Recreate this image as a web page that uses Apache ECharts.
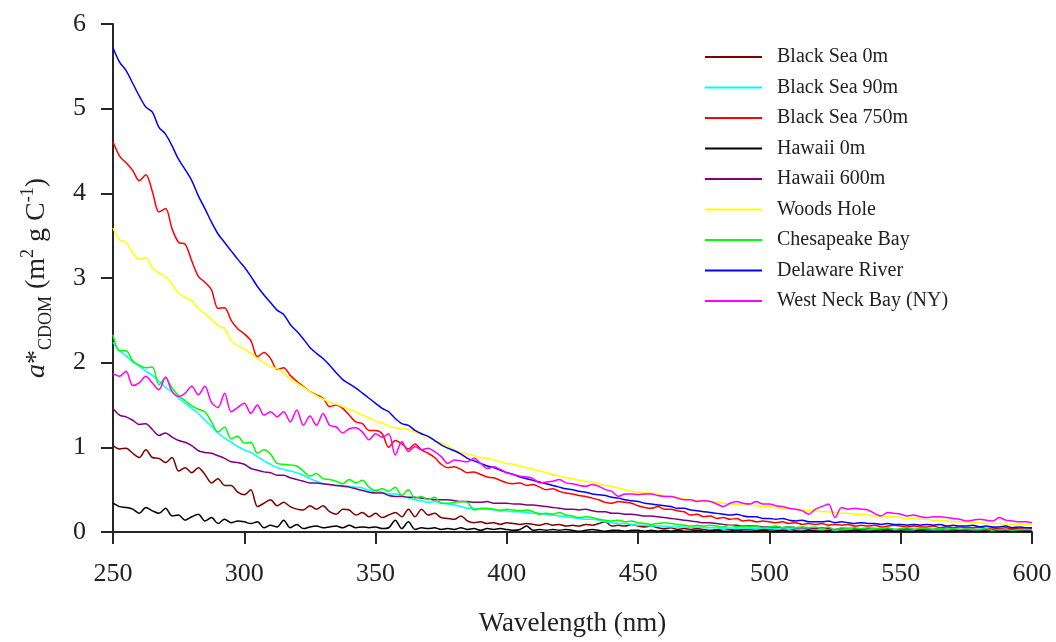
<!DOCTYPE html>
<html>
<head>
<meta charset="utf-8">
<title>CDOM specific absorption spectra</title>
<script src="https://cdn.jsdelivr.net/npm/echarts@6/dist/echarts.min.js"></script>
<style>
  html, body { margin: 0; padding: 0; background: #ffffff; }
  #chart { width: 1056px; height: 642px; }
</style>
</head>
<body>
<div id="chart"></div>
<script>
// Wavelength grid (nm): 250 to 600 in 2.5 nm steps
const wavelengths = [];
for (let w = 250; w <= 600; w += 2.5) wavelengths.push(w);

const xTicks = [250, 300, 350, 400, 450, 500, 550, 600];
const yTicks = [0, 1, 2, 3, 4, 5, 6];

const seriesNames = [
  'Black Sea 0m', 'Black Sea 90m', 'Black Sea 750m', 'Hawaii 0m', 'Hawaii 600m',
  'Woods Hole', 'Chesapeake Bay', 'Delaware River', 'West Neck Bay (NY)'
];

// a*CDOM (m2 g C-1), one value per wavelength step
const blackSea0m = [
  1.02, 0.98, 0.99, 0.93, 0.88, 0.97, 0.88, 0.87, 0.82, 0.88,
  0.72, 0.76, 0.70, 0.76, 0.68, 0.58, 0.63, 0.55, 0.55, 0.47,
  0.44, 0.50, 0.30, 0.34, 0.38, 0.31, 0.35, 0.30, 0.27, 0.26,
  0.31, 0.27, 0.31, 0.24, 0.21, 0.27, 0.26, 0.20, 0.23, 0.18,
  0.22, 0.17, 0.20, 0.23, 0.18, 0.27, 0.18, 0.27, 0.20, 0.22,
  0.17, 0.16, 0.15, 0.19, 0.13, 0.11, 0.12, 0.10, 0.11, 0.09,
  0.11, 0.10, 0.09, 0.10, 0.09, 0.08, 0.10, 0.08, 0.09, 0.07,
  0.08, 0.07, 0.09, 0.08, 0.10, 0.12, 0.07, 0.08, 0.07, 0.09,
  0.07, 0.06, 0.07, 0.05, 0.04, 0.05, 0.03, 0.04, 0.03, 0.04,
  0.03, 0.02, 0.03, 0.04, 0.03, 0.02, 0.03, 0.03, 0.02, 0.03,
  0.03, 0.02, 0.03, 0.04, 0.02, 0.03, 0.03, 0.02, 0.03, 0.02,
  0.01, 0.03, 0.02, 0.03, 0.02, 0.03, 0.02, 0.02, 0.03, 0.02,
  0.02, 0.03, 0.02, 0.02, 0.03, 0.02, 0.02, 0.03, 0.02, 0.02,
  0.02, 0.03, 0.02, 0.02, 0.03, 0.02, 0.02, 0.03, 0.02, 0.02,
  0.03
];
const blackSea90m = [
  2.24, 2.14, 2.08, 2.01, 1.96, 1.90, 1.85, 1.78, 1.71, 1.65,
  1.58, 1.52, 1.46, 1.40, 1.32, 1.25, 1.17, 1.11, 1.06, 1.01,
  0.97, 0.94, 0.89, 0.84, 0.80, 0.76, 0.74, 0.72, 0.70, 0.67,
  0.63, 0.60, 0.57, 0.56, 0.55, 0.55, 0.54, 0.53, 0.52, 0.49,
  0.48, 0.47, 0.45, 0.45, 0.43, 0.40, 0.38, 0.37, 0.35, 0.36,
  0.34, 0.33, 0.32, 0.30, 0.28, 0.28, 0.27, 0.27, 0.26, 0.26,
  0.25, 0.24, 0.24, 0.23, 0.22, 0.22, 0.21, 0.20, 0.19, 0.18,
  0.17, 0.16, 0.15, 0.15, 0.14, 0.12, 0.11, 0.10, 0.10, 0.09,
  0.08, 0.08, 0.07, 0.07, 0.07, 0.06, 0.06, 0.06, 0.05, 0.06,
  0.05, 0.05, 0.05, 0.04, 0.05, 0.04, 0.05, 0.04, 0.04, 0.05,
  0.04, 0.04, 0.03, 0.04, 0.04, 0.03, 0.04, 0.03, 0.03, 0.04,
  0.01, 0.03, 0.03, 0.03, 0.02, 0.03, 0.03, 0.02, 0.03, 0.02,
  0.03, 0.02, 0.02, 0.03, 0.02, 0.02, 0.02, 0.03, 0.02, 0.02,
  0.01, 0.02, 0.02, 0.01, 0.02, 0.02, 0.01, 0.02, 0.02, 0.01,
  0.02
];
const blackSea750m = [
  4.61, 4.44, 4.36, 4.27, 4.15, 4.22, 4.02, 3.78, 3.82, 3.58,
  3.42, 3.40, 3.20, 3.02, 2.95, 2.86, 2.64, 2.65, 2.50, 2.40,
  2.34, 2.26, 2.07, 2.12, 2.05, 1.92, 1.94, 1.85, 1.78, 1.72,
  1.66, 1.62, 1.58, 1.48, 1.50, 1.46, 1.38, 1.30, 1.28, 1.20,
  1.20, 1.16, 1.00, 1.08, 1.04, 0.98, 1.04, 0.97, 0.93, 0.88,
  0.80, 0.76, 0.77, 0.74, 0.70, 0.71, 0.68, 0.65, 0.64, 0.61,
  0.58, 0.57, 0.58, 0.55, 0.56, 0.53, 0.50, 0.51, 0.48, 0.46,
  0.45, 0.43, 0.42, 0.40, 0.38, 0.35, 0.34, 0.36, 0.35, 0.34,
  0.31, 0.29, 0.28, 0.30, 0.27, 0.27, 0.25, 0.24, 0.20, 0.21,
  0.18, 0.19, 0.16, 0.17, 0.15, 0.16, 0.13, 0.14, 0.12, 0.13,
  0.12, 0.11, 0.12, 0.10, 0.11, 0.09, 0.10, 0.09, 0.10, 0.08,
  0.09, 0.08, 0.09, 0.07, 0.08, 0.07, 0.08, 0.06, 0.07, 0.08,
  0.07, 0.06, 0.07, 0.06, 0.06, 0.07, 0.05, 0.06, 0.05, 0.06,
  0.05, 0.05, 0.06, 0.04, 0.05, 0.04, 0.05, 0.04, 0.04, 0.05,
  0.04
];
const hawaii0m = [
  0.34, 0.30, 0.29, 0.27, 0.22, 0.29, 0.25, 0.22, 0.28, 0.19,
  0.20, 0.14, 0.18, 0.21, 0.13, 0.17, 0.10, 0.15, 0.11, 0.13,
  0.12, 0.10, 0.12, 0.05, 0.08, 0.06, 0.14, 0.05, 0.09, 0.04,
  0.06, 0.07, 0.05, 0.06, 0.07, 0.05, 0.08, 0.05, 0.06, 0.05,
  0.06, 0.04, 0.05, 0.14, 0.04, 0.12, 0.03, 0.05, 0.04, 0.05,
  0.03, 0.04, 0.03, 0.05, 0.03, 0.04, 0.02, 0.04, 0.03, 0.04,
  0.03, 0.02, 0.03, 0.07, 0.02, 0.03, 0.02, 0.03, 0.02, 0.03,
  0.02, 0.01, 0.02, 0.03, 0.02, 0.01, 0.02, 0.02, 0.01, 0.02,
  0.02, 0.01, 0.02, 0.01, 0.02, 0.01, 0.02, 0.01, 0.01, 0.02,
  0.01, 0.01, 0.02, 0.01, 0.01, 0.02, 0.01, 0.01, 0.01, 0.02,
  0.01, 0.01, 0.02, 0.01, 0.01, 0.01, 0.02, 0.01, 0.01, 0.01,
  0.00, 0.01, 0.01, 0.02, 0.01, 0.01, 0.01, 0.01, 0.02, 0.01,
  0.01, 0.01, 0.01, 0.02, 0.01, 0.01, 0.01, 0.01, 0.01, 0.02,
  0.01, 0.01, 0.01, 0.01, 0.02, 0.01, 0.01, 0.01, 0.01, 0.01,
  0.01
];
const hawaii600m = [
  1.46, 1.38, 1.36, 1.32, 1.27, 1.28, 1.21, 1.14, 1.17, 1.12,
  1.08, 1.06, 1.02, 0.96, 0.94, 0.93, 0.90, 0.87, 0.83, 0.82,
  0.80, 0.75, 0.73, 0.71, 0.70, 0.67, 0.67, 0.64, 0.62, 0.60,
  0.58, 0.58, 0.57, 0.56, 0.55, 0.54, 0.53, 0.51, 0.49, 0.47,
  0.46, 0.46, 0.43, 0.42, 0.42, 0.41, 0.41, 0.40, 0.39, 0.38,
  0.38, 0.38, 0.37, 0.36, 0.36, 0.35, 0.35, 0.36, 0.34, 0.34,
  0.34, 0.33, 0.33, 0.32, 0.32, 0.31, 0.30, 0.29, 0.28, 0.27,
  0.27, 0.26, 0.27, 0.25, 0.24, 0.24, 0.22, 0.22, 0.21, 0.21,
  0.20, 0.19, 0.19, 0.18, 0.17, 0.16, 0.15, 0.14, 0.13, 0.12,
  0.11, 0.11, 0.10, 0.09, 0.08, 0.08, 0.07, 0.07, 0.07, 0.06,
  0.06, 0.06, 0.05, 0.06, 0.05, 0.05, 0.05, 0.04, 0.05, 0.04,
  0.03, 0.04, 0.04, 0.04, 0.03, 0.04, 0.04, 0.03, 0.04, 0.03,
  0.03, 0.04, 0.03, 0.03, 0.03, 0.03, 0.04, 0.03, 0.03, 0.03,
  0.02, 0.03, 0.03, 0.02, 0.03, 0.03, 0.02, 0.03, 0.03, 0.02,
  0.03
];
const woodsHole = [
  3.59, 3.45, 3.42, 3.30, 3.22, 3.24, 3.12, 3.06, 3.02, 2.93,
  2.82, 2.77, 2.73, 2.64, 2.58, 2.51, 2.44, 2.40, 2.26, 2.20,
  2.16, 2.11, 2.05, 2.00, 1.95, 1.93, 1.88, 1.80, 1.76, 1.71,
  1.66, 1.61, 1.57, 1.53, 1.51, 1.48, 1.45, 1.42, 1.38, 1.35,
  1.31, 1.29, 1.25, 1.23, 1.22, 1.21, 1.18, 1.15, 1.12, 1.08,
  1.05, 1.02, 0.97, 0.94, 0.92, 0.90, 0.88, 0.87, 0.85, 0.83,
  0.81, 0.80, 0.78, 0.76, 0.74, 0.72, 0.70, 0.68, 0.66, 0.64,
  0.63, 0.61, 0.60, 0.59, 0.57, 0.55, 0.54, 0.52, 0.50, 0.48,
  0.47, 0.46, 0.46, 0.44, 0.43, 0.42, 0.41, 0.39, 0.38, 0.37,
  0.36, 0.36, 0.35, 0.34, 0.33, 0.33, 0.33, 0.32, 0.31, 0.30,
  0.30, 0.29, 0.28, 0.28, 0.27, 0.26, 0.25, 0.25, 0.24, 0.24,
  0.23, 0.22, 0.22, 0.21, 0.21, 0.20, 0.19, 0.19, 0.18, 0.18,
  0.17, 0.16, 0.16, 0.15, 0.15, 0.14, 0.14, 0.13, 0.12, 0.12,
  0.12, 0.11, 0.11, 0.10, 0.10, 0.10, 0.09, 0.09, 0.09, 0.09,
  0.08
];
const chesapeakeBay = [
  2.33, 2.14, 2.14, 2.02, 1.97, 1.94, 1.95, 1.74, 1.82, 1.70,
  1.61, 1.55, 1.49, 1.45, 1.42, 1.30, 1.18, 1.24, 1.10, 1.13,
  1.05, 1.06, 0.93, 0.97, 0.92, 0.81, 0.80, 0.79, 0.78, 0.72,
  0.66, 0.69, 0.63, 0.62, 0.60, 0.57, 0.62, 0.58, 0.61, 0.53,
  0.49, 0.51, 0.48, 0.53, 0.43, 0.50, 0.40, 0.42, 0.38, 0.41,
  0.34, 0.34, 0.35, 0.36, 0.35, 0.26, 0.28, 0.28, 0.27, 0.25,
  0.27, 0.26, 0.25, 0.26, 0.24, 0.21, 0.22, 0.21, 0.23, 0.20,
  0.19, 0.17, 0.18, 0.17, 0.15, 0.14, 0.13, 0.14, 0.12, 0.13,
  0.11, 0.10, 0.09, 0.10, 0.11, 0.10, 0.09, 0.08, 0.07, 0.08,
  0.07, 0.08, 0.07, 0.06, 0.08, 0.06, 0.07, 0.06, 0.07, 0.05,
  0.06, 0.07, 0.05, 0.06, 0.05, 0.06, 0.05, 0.06, 0.04, 0.06,
  0.02, 0.05, 0.04, 0.05, 0.04, 0.05, 0.04, 0.04, 0.05, 0.03,
  0.04, 0.05, 0.03, 0.04, 0.04, 0.03, 0.04, 0.03, 0.04, 0.03,
  0.04, 0.03, 0.03, 0.04, 0.02, 0.03, 0.03, 0.02, 0.03, 0.03,
  0.03
];
const delawareRiver = [
  5.72, 5.55, 5.45, 5.30, 5.15, 5.02, 4.96, 4.78, 4.70, 4.56,
  4.40, 4.28, 4.15, 3.97, 3.82, 3.66, 3.52, 3.42, 3.32, 3.22,
  3.13, 3.02, 2.90, 2.80, 2.71, 2.62, 2.57, 2.45, 2.37, 2.28,
  2.18, 2.11, 2.05, 1.97, 1.88, 1.80, 1.75, 1.70, 1.64, 1.58,
  1.52, 1.46, 1.42, 1.34, 1.28, 1.26, 1.20, 1.16, 1.13, 1.08,
  1.03, 0.99, 0.96, 0.92, 0.87, 0.84, 0.81, 0.78, 0.76, 0.73,
  0.70, 0.68, 0.65, 0.63, 0.61, 0.59, 0.57, 0.55, 0.53, 0.51,
  0.50, 0.48, 0.47, 0.45, 0.44, 0.43, 0.41, 0.40, 0.38, 0.37,
  0.36, 0.34, 0.33, 0.32, 0.31, 0.30, 0.28, 0.28, 0.26, 0.25,
  0.24, 0.23, 0.22, 0.21, 0.20, 0.21, 0.19, 0.18, 0.18, 0.16,
  0.16, 0.15, 0.16, 0.14, 0.13, 0.14, 0.12, 0.12, 0.12, 0.13,
  0.11, 0.12, 0.11, 0.10, 0.11, 0.10, 0.10, 0.09, 0.10, 0.09,
  0.09, 0.08, 0.09, 0.08, 0.09, 0.08, 0.09, 0.07, 0.08, 0.07,
  0.07, 0.08, 0.06, 0.07, 0.06, 0.06, 0.07, 0.05, 0.06, 0.05,
  0.05
];
const westNeckBay = [
  1.87, 1.84, 1.90, 1.73, 1.76, 1.84, 1.76, 1.68, 1.83, 1.66,
  1.60, 1.64, 1.72, 1.62, 1.72, 1.53, 1.47, 1.64, 1.42, 1.47,
  1.52, 1.40, 1.50, 1.38, 1.42, 1.36, 1.42, 1.30, 1.44, 1.26,
  1.37, 1.26, 1.40, 1.26, 1.24, 1.17, 1.22, 1.23, 1.18, 1.09,
  1.16, 1.12, 1.16, 0.91, 1.07, 0.95, 1.01, 0.97, 0.99, 0.95,
  0.89, 0.81, 0.85, 0.84, 0.83, 0.87, 0.81, 0.75, 0.77, 0.74,
  0.70, 0.68, 0.66, 0.65, 0.63, 0.58, 0.59, 0.60, 0.62, 0.58,
  0.57, 0.55, 0.54, 0.56, 0.54, 0.50, 0.48, 0.42, 0.45, 0.45,
  0.44, 0.45, 0.45, 0.43, 0.42, 0.42, 0.40, 0.38, 0.38, 0.36,
  0.37, 0.36, 0.33, 0.30, 0.34, 0.36, 0.34, 0.33, 0.36, 0.33,
  0.33, 0.31, 0.30, 0.28, 0.27, 0.25, 0.21, 0.27, 0.30, 0.33,
  0.17, 0.29, 0.27, 0.28, 0.27, 0.26, 0.22, 0.19, 0.23, 0.22,
  0.21, 0.19, 0.20, 0.18, 0.17, 0.18, 0.18, 0.17, 0.16, 0.15,
  0.13, 0.14, 0.15, 0.14, 0.13, 0.17, 0.14, 0.13, 0.12, 0.12,
  0.11
];

const seriesValues = [
  blackSea0m, blackSea90m, blackSea750m, hawaii0m, hawaii600m,
  woodsHole, chesapeakeBay, delawareRiver, westNeckBay
];
const seriesColors = [
  '#800000', '#00ffff', '#ff0000', '#000000', '#800080',
  '#ffff00', '#00ff00', '#0000ff', '#ff00ff'
];

const FONT = '"Liberation Serif", "Times New Roman", serif';
const INK = '#222222';

const chart = echarts.init(document.getElementById('chart'), null, { renderer: 'canvas' });

chart.setOption({
  animation: false,
  backgroundColor: '#ffffff',
  grid: { left: 113, right: 24, top: 24, bottom: 106, containLabel: false },
  legend: {
    orient: 'vertical',
    left: 705,
    top: 47,
    padding: 0,
    icon: 'rect',
    itemWidth: 57,
    itemHeight: 2,
    itemGap: 10.5,
    data: seriesNames,
    textStyle: { fontFamily: FONT, fontSize: 20, lineHeight: 20, color: INK, padding: [0, 0, 0, 10] }
  },
  xAxis: {
    type: 'value',
    min: xTicks[0],
    max: xTicks[xTicks.length - 1],
    interval: 50,
    name: 'Wavelength (nm)',
    nameLocation: 'middle',
    nameGap: 78,
    nameTextStyle: { fontFamily: FONT, fontSize: 27, color: INK },
    axisLine: { show: true, onZero: false, lineStyle: { color: '#262626', width: 2 } },
    axisTick: { show: true, inside: false, length: 12, lineStyle: { color: '#262626', width: 2 } },
    axisLabel: { fontFamily: FONT, fontSize: 26, color: INK, margin: 29 },
    splitLine: { show: false }
  },
  yAxis: {
    type: 'value',
    min: yTicks[0],
    max: yTicks[yTicks.length - 1],
    interval: 1,
    name: '{i|a}{t|*}{s|CDOM}{t| (m}{p|2}{t| g C}{p|-1}{t|)}',
    nameLocation: 'middle',
    nameRotate: 90,
    nameGap: 58,
    nameTextStyle: {
      fontFamily: FONT,
      color: INK,
      rich: {
        i: { fontFamily: FONT, fontSize: 28, fontStyle: 'italic', color: INK, lineHeight: 36 },
        t: { fontFamily: FONT, fontSize: 28, color: INK, lineHeight: 36 },
        s: { fontFamily: FONT, fontSize: 18, color: INK, verticalAlign: 'bottom', lineHeight: 18 },
        p: { fontFamily: FONT, fontSize: 18, color: INK, verticalAlign: 'top', lineHeight: 18 }
      }
    },
    axisLine: { show: true, onZero: false, lineStyle: { color: '#262626', width: 2 } },
    axisTick: { show: true, inside: false, length: 12, lineStyle: { color: '#262626', width: 2 } },
    axisLabel: { fontFamily: FONT, fontSize: 26, color: INK, margin: 27 },
    splitLine: { show: false }
  },
  series: seriesNames.map((name, k) => ({
    name: name,
    type: 'line',
    symbol: 'none',
    showSymbol: false,
    smooth: 0.3,
    clip: true,
    color: seriesColors[k],
    lineStyle: { color: seriesColors[k], width: 1.5 },
    data: wavelengths.map((w, i) => [w, seriesValues[k][i]])
  }))
});
</script>
</body>
</html>
